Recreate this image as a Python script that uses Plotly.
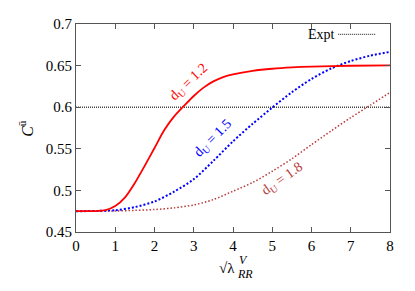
import plotly.graph_objects as go

# ---- data ----
x_d12 = [0, 0.5, 0.75, 1.0, 1.25, 1.5, 1.75, 2.0, 2.25, 2.5, 2.75, 3.0, 3.25, 3.5, 3.75, 4.0, 4.5, 5.0, 5.5, 6.0, 7.0, 8.0]
y_d12 = [0.475, 0.4752, 0.4762, 0.4812, 0.4917, 0.509, 0.5295, 0.551, 0.5725, 0.589, 0.6015, 0.6135, 0.6235, 0.631, 0.6362, 0.6395, 0.6437, 0.6462, 0.6478, 0.6488, 0.6498, 0.6502]

x_d15 = [0, 1.0, 1.5, 2.0, 2.5, 3.0, 3.5, 4.0, 4.5, 5.0, 5.5, 6.0, 6.5, 7.0, 7.5, 8.0]
y_d15 = [0.475, 0.4762, 0.480, 0.4867, 0.4985, 0.5135, 0.5355, 0.559, 0.580, 0.5995, 0.618, 0.634, 0.6465, 0.6555, 0.662, 0.6665]

x_d18 = [0, 1.0, 1.5, 2.0, 2.5, 3.0, 3.5, 4.0, 4.5, 5.0, 5.5, 6.0, 6.5, 7.0, 7.5, 8.0]
y_d18 = [0.475, 0.4753, 0.476, 0.477, 0.479, 0.4825, 0.489, 0.499, 0.5095, 0.523, 0.538, 0.555, 0.5715, 0.5875, 0.6025, 0.6178]

expt_x = [0, 8]
expt_value = 0.6

x_ticks = [0, 1, 2, 3, 4, 5, 6, 7, 8]
y_ticks = [0.45, 0.5, 0.55, 0.6, 0.65, 0.7]
y_tick_labels = ["0.45", "0.5", "0.55", "0.6", "0.65", "0.7"]

labels = ["d<sub>U</sub> = 1.2", "d<sub>U</sub> = 1.5", "d<sub>U</sub> = 1.8"]
label_x = [2.88, 3.5, 5.25]
label_y = [0.6294, 0.5623, 0.5137]
label_angle = [-44, -45, -35]

RED = "#ff0000"
BLUE = "#0000ff"
BROWN = "#b83a3a"
FONT = "Liberation Serif, Times New Roman, DejaVu Serif, serif"

fig = go.Figure()
fig.add_trace(go.Scatter(x=expt_x, y=[expt_value] * len(expt_x), mode="lines",
                         line=dict(color="#444444", width=1.5, dash="1px,1px"), showlegend=False))
fig.add_trace(go.Scatter(x=x_d18, y=y_d18, mode="lines", line=dict(color=BROWN, width=1.5, dash="1.5px,2px", shape="spline", smoothing=0.8),
                         showlegend=False))
fig.add_trace(go.Scatter(x=x_d15, y=y_d15, mode="lines", line=dict(color=BLUE, width=2, dash="2px,2px", shape="spline", smoothing=0.8),
                         showlegend=False))
fig.add_trace(go.Scatter(x=x_d12, y=y_d12, mode="lines", line=dict(color=RED, width=1.8, shape="spline", smoothing=0.8),
                         showlegend=False))

colors = [RED, BLUE, BROWN]
for t, xx, yy, ang, c in zip(labels, label_x, label_y, label_angle, colors):
    fig.add_annotation(x=xx, y=yy, text=t, showarrow=False, textangle=ang,
                       font=dict(family=FONT, size=14, color=c))

# legend (text left of the key line)
fig.add_annotation(x=0.83, y=0.95, xref="paper", yref="paper", text="Expt", showarrow=False,
                   xanchor="right", yanchor="middle", font=dict(family=FONT, size=14, color="black"))
fig.add_shape(type="line", xref="paper", yref="paper", x0=0.835, x1=0.955, y0=0.95, y1=0.95,
              line=dict(color="#444444", width=1.2, dash="1px,1px"))

# axis titles
fig.add_annotation(x=0, y=0.574, xref="paper", yref="y", xshift=-62, text="<i>C</i><sup>ū</sup>",
                   showarrow=False, textangle=-90, font=dict(family=FONT, size=16, color="black"))
fig.add_annotation(x=4.1, y=0.45, xref="x", yref="y", yshift=-36, text="√λ", showarrow=False,
                   xanchor="right", font=dict(family=FONT, size=15, color="black"))
fig.add_annotation(x=4.1, y=0.45, xref="x", yref="y", yshift=-28, text="<i>V</i>", showarrow=False,
                   xanchor="left", xshift=0, font=dict(family=FONT, size=12, color="black"))
fig.add_annotation(x=4.1, y=0.45, xref="x", yref="y", yshift=-42, text="<i>RR</i>", showarrow=False,
                   xanchor="left", xshift=-2, font=dict(family=FONT, size=12, color="black"))

axis_common = dict(showgrid=False, zeroline=False, showline=True, linecolor="#555555", linewidth=1.2,
                   ticks="inside", ticklen=5, tickcolor="#555555", mirror="ticks",
                   tickfont=dict(family=FONT, size=15, color="black"))
fig.update_xaxes(range=[0, 8], tickvals=x_ticks, **axis_common)
fig.update_yaxes(range=[0.45, 0.7], tickvals=y_ticks, ticktext=y_tick_labels, **axis_common)

fig.update_layout(width=407, height=283, margin=dict(l=68, r=25, t=8, b=59),
                  plot_bgcolor="white", paper_bgcolor="white", showlegend=False,
                  font=dict(family=FONT))
fig.write_html("out.html")
